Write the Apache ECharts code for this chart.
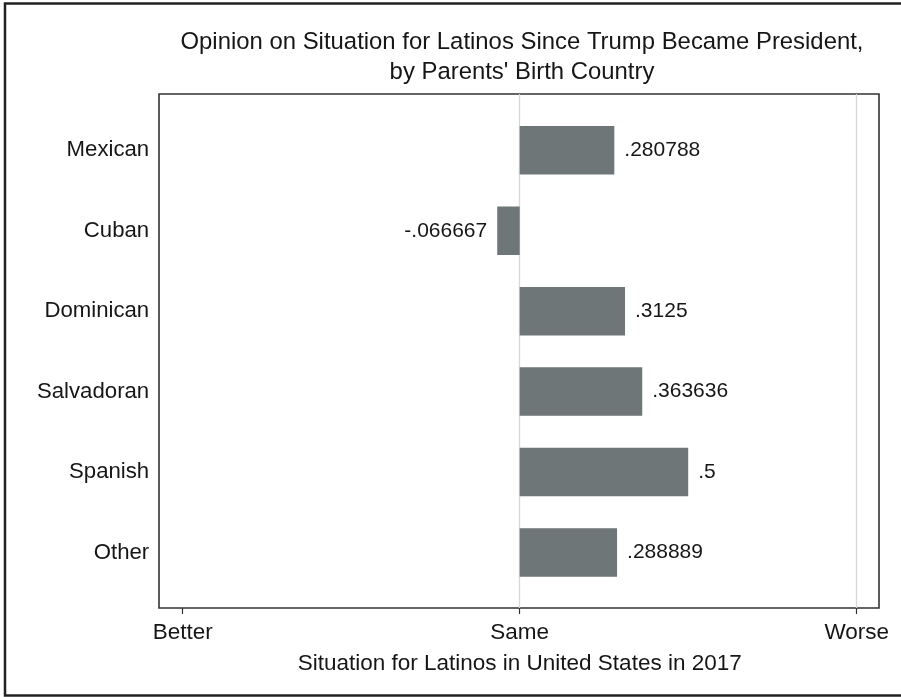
<!DOCTYPE html>
<html><head><meta charset="utf-8">
<script src="https://cdn.jsdelivr.net/npm/echarts@6/dist/echarts.min.js"></script>
<style>html,body{margin:0;padding:0;background:#fff}#c{width:901px;height:697px}</style>
</head><body><div id="c"></div>
<script>
const categories = ['Mexican','Cuban','Dominican','Salvadoran','Spanish','Other'];
const values = [0.280788, -0.066667, 0.3125, 0.363636, 0.5, 0.288889];
const tickLabels = ['Better','Same','Worse'];
const titleText = "Opinion on Situation for Latinos Since Trump Became President,\nby Parents' Birth Country";
const xTitle = 'Situation for Latinos in United States in 2017';

const FONT = '"Liberation Sans", Arial, sans-serif';
const TXT = '#161616';
const fmt = v => String(v).replace('0.', '.');

const chart = echarts.init(document.getElementById('c'), null, {renderer:'canvas'});
chart.setOption({
  backgroundColor:'#fff',
  animation:false,
  title:{text:titleText,left:517,top:22,textAlign:'center',
    textStyle:{fontFamily:FONT,fontSize:23.9,fontWeight:'normal',color:TXT,lineHeight:30}},
  graphic:[{type:'rect',shape:{x:5,y:3.5,width:905,height:692},
    style:{fill:'none',stroke:'#222',lineWidth:2.5},silent:true}],
  grid:[
    {left:159,right:22,top:94,bottom:89,show:true,borderColor:'#333',borderWidth:1.6,backgroundColor:'transparent'},
    {left:182.7,right:44.3,top:94,bottom:89},
    {left:182.7,right:44.3,top:110.1,height:482.6}
  ],
  xAxis:[
    {gridIndex:0,type:'value',min:0,max:1,show:false},
    {gridIndex:1,type:'value',min:-1,max:1,interval:1,
      axisLine:{show:false},
      axisTick:{show:true,length:6,inside:false,lineStyle:{color:'#333',width:1.2}},
      axisLabel:{margin:13,fontFamily:FONT,fontSize:22.5,color:TXT,formatter:v=>tickLabels[Math.round(v)+1]},
      splitLine:{show:true,lineStyle:{color:['rgba(0,0,0,0)','#d6d6dc','#d6d6dc'],width:1.3}},
      name:xTitle,nameLocation:'middle',nameGap:44,
      nameTextStyle:{fontFamily:FONT,fontSize:22.5,color:TXT}},
    {gridIndex:2,type:'value',min:-1,max:1,show:false}
  ],
  yAxis:[
    {gridIndex:0,type:'value',min:0,max:1,show:false},
    {gridIndex:1,type:'value',min:0,max:1,show:false},
    {gridIndex:2,type:'category',data:categories,inverse:true,
      axisLine:{show:false},axisTick:{show:false},splitLine:{show:false},
      axisLabel:{margin:33.5,fontFamily:FONT,fontSize:22.2,color:TXT}}
  ],
  series:[{
    type:'bar',xAxisIndex:2,yAxisIndex:2,barWidth:48.5,
    data:values.map(v => ({value:v, label:{position: v < 0 ? 'left' : 'right'}})),
    itemStyle:{color:'#6e7678'},
    label:{show:true,distance:10,fontFamily:FONT,fontSize:21,color:TXT,
      formatter:p=>fmt(p.value)}
  }]
});
</script></body></html>
